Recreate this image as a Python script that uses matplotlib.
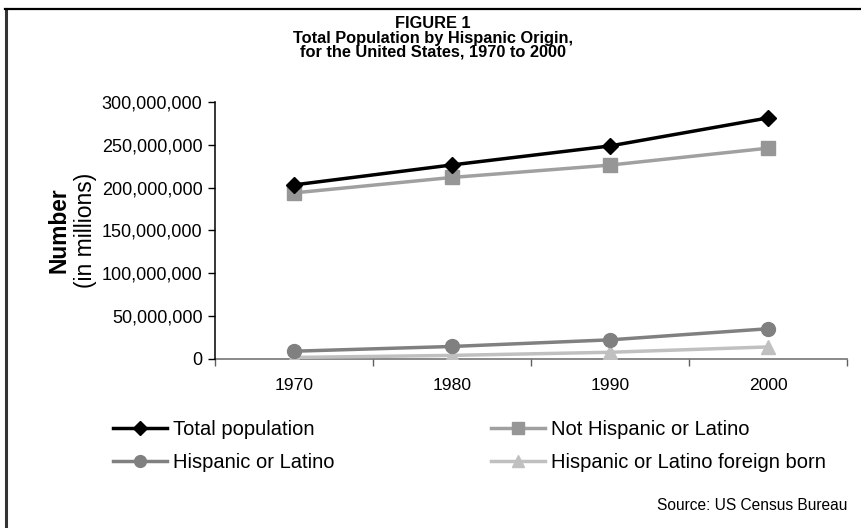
import matplotlib.pyplot as plt
from matplotlib.ticker import FuncFormatter, FixedLocator
from matplotlib.lines import Line2D

plt.rcParams['font.family'] = ['Liberation Sans', 'DejaVu Sans']

years = ["1970", "1980", "1990", "2000"]
total_pop = [203211926, 226545805, 248709873, 281421906]
not_hispanic = [193890358, 211936307, 226354039, 246116088]
hispanic = [9072602, 14608673, 22354059, 35305818]
hispanic_foreign = [1803970, 4192970, 7841650, 14072000]

fig = plt.figure(figsize=(8.62, 5.28), dpi=100)

# partial frame round the figure (top and left edges)
fig.add_artist(Line2D([0.0070, 0.0070], [0.0, 0.9830], color='#333333', lw=2.2,
                      transform=fig.transFigure))
fig.add_artist(Line2D([0.0060, 1.0], [0.9830, 0.9830], color='black', lw=1.6,
                      transform=fig.transFigure))

ax = fig.add_axes([0.2494, 0.3201, 0.7332, 0.4867])
x = list(range(len(years)))

ax.plot(x, total_pop, color='black', lw=2.5, marker='D', ms=8.5,
        label="Total population", zorder=5)
ax.plot(x, not_hispanic, color='#a0a0a0', lw=2.5, marker='s', ms=10,
        mfc='#969696', mec='#969696', label="Not Hispanic or Latino", zorder=4)
ax.plot(x, hispanic, color='#808080', lw=2.5, marker='o', ms=10,
        label="Hispanic or Latino", zorder=4)
ax.plot(x, hispanic_foreign, color='#c0c0c0', lw=2.5, marker='^', ms=10.5,
        label="Hispanic or Latino foreign born", zorder=3)

ax.set_xlim(-0.5, 3.5)
ax.set_ylim(0, 300000000)
ax.set_yticks(range(0, 300000001, 50000000))
ax.yaxis.set_major_formatter(FuncFormatter(lambda v, p: "{:,}".format(int(v))))
ax.set_xticks(x)
ax.set_xticklabels(years)
ax.xaxis.set_minor_locator(FixedLocator([-0.5, 0.5, 1.5, 2.5, 3.5]))
ax.tick_params(axis='x', which='major', length=0, labelsize=12.6, pad=14)
ax.tick_params(axis='x', which='minor', length=5, width=1, color='#606060')
ax.tick_params(axis='y', length=5, width=1, labelsize=13, pad=4)

for s in ['top', 'right']:
    ax.spines[s].set_visible(False)
ax.spines['left'].set_color('black')
ax.spines['left'].set_linewidth(1.1)
ax.spines['bottom'].set_color('#808080')
ax.spines['bottom'].set_linewidth(1.3)
ax.spines['bottom'].set_zorder(1)

title_lines = ["FIGURE 1",
               "Total Population by Hispanic Origin,",
               "for the United States, 1970 to 2000"]
for i, line in enumerate(title_lines):
    fig.text(0.502, 1 - (24 + 14 * i) / 528, line, ha='center', va='center',
             fontsize=11.8, fontweight='bold')

fig.text(59 / 862, 1 - 230 / 528, "Number", rotation=90, ha='center', va='center',
         fontsize=16.4, fontweight='bold')
fig.text(86 / 862, 1 - 230 / 528, "(in millions)", rotation=90, ha='center', va='center',
         fontsize=16.5)

h, l = ax.get_legend_handles_labels()
order = [0, 2, 1, 3]
fig.legend([h[i] for i in order], [l[i] for i in order], ncol=2,
           loc='upper left', bbox_to_anchor=(113 / 862, 1 - 420 / 528), frameon=False,
           borderpad=0, borderaxespad=0, handlelength=2.7, handletextpad=0.3,
           columnspacing=7.75, labelspacing=0.72, fontsize=14.5, markerscale=0.85)

fig.text(847 / 862, 1 - 505 / 528, "Source: US Census Bureau", ha='right', va='center',
         fontsize=11.2)

fig.savefig("out.png", dpi=100)
